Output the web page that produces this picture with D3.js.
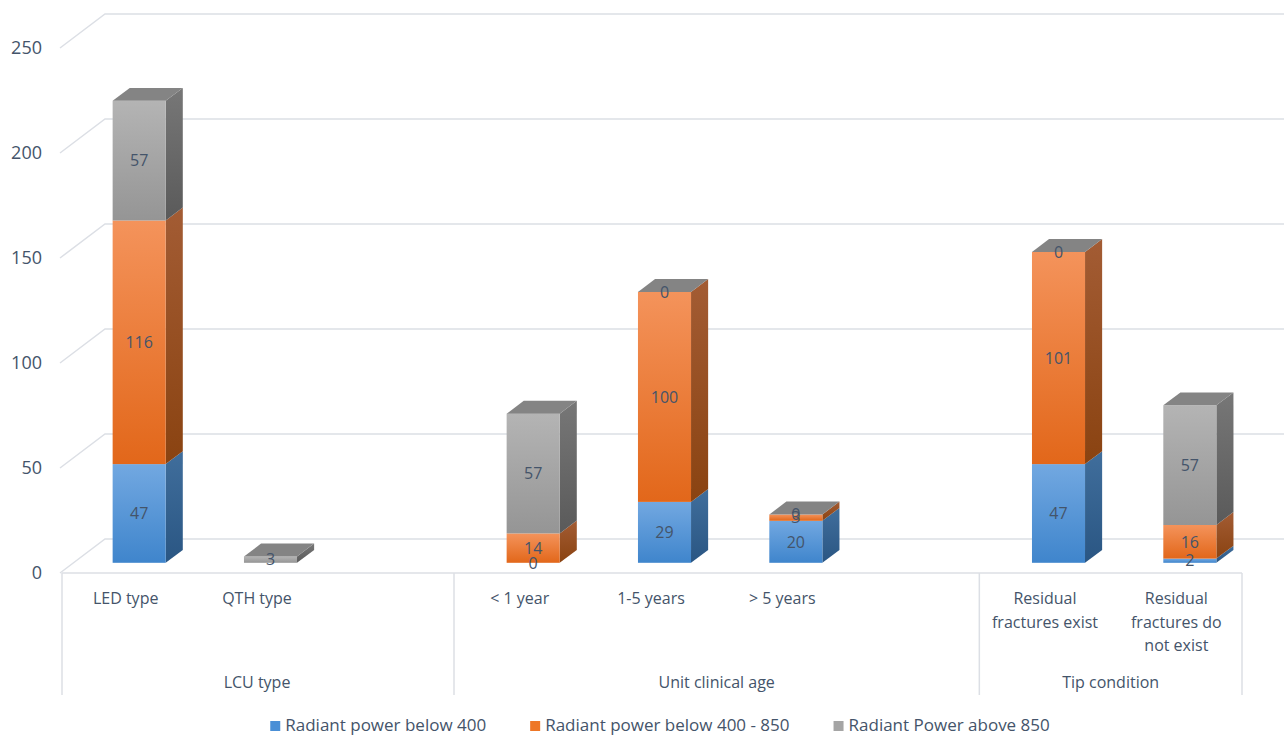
<!DOCTYPE html>
<html>
<head>
<meta charset="utf-8">
<script src="https://cdn.jsdelivr.net/npm/d3@7"></script>
<style>
    body { margin: 0; background: #fff; }
    #container { width: 1284px; height: 736px; }
    text { font-family: "Open Sans", sans-serif; fill: #44546a; }
</style>
</head>
<body>
<div id="container"></div>
<script>
'use strict';
(function() {
    // chart data
    var categories = ['LED type', 'QTH type', '< 1 year', '1-5 years', '> 5 years',
        'Residual fractures exist', 'Residual fractures do not exist'];
    var groups = ['LCU type', 'Unit clinical age', 'Tip condition'];
    var groupOf = [0, 0, 1, 1, 1, 2, 2];
    var seriesNames = ['Radiant power below 400', 'Radiant power below 400 - 850', 'Radiant Power above 850'];
    var below400 = [47, null, 0, 29, 20, 47, 2];
    var from400to850 = [116, null, 14, 100, 3, 101, 16];
    var above850 = [57, 3, 57, 0, 0, 0, 57];
    var yTicks = [0, 50, 100, 150, 200, 250];

    var colors = [
        {front: ['#72a8e1', '#3f85cc'], side: ['#406e9c', '#2a5683'], top: '#5b8dcb', key: '#4a8fd6'},
        {front: ['#f4935b', '#e2671a'], side: ['#a35c34', '#8a4311'], top: '#c7621f', key: '#ee7727'},
        {front: ['#b4b4b4', '#959595'], side: ['#777777', '#5a5a5a'], top: '#848484', key: '#a5a5a5'}
    ];

    var W = 1284, H = 736;
    var left = 60, right = 1242;
    var depthX = 45, depthY = 34;     // back wall offset
    var barFront = 0.3, barBack = 0.68; // bar depth position (0 = front, 1 = back)

    var svg = d3.select('#container').append('svg')
        .attr('width', W)
        .attr('height', H);

    // slots: categories plus a blank slot closing the first two groups
    var slots = [];
    categories.forEach(function(c, i) {
        slots.push({key: 'c' + i, index: i});
        if (i < categories.length - 1 && groupOf[i + 1] !== groupOf[i]) {
            slots.push({key: 'gap' + i, index: null});
        }
    });

    var x = d3.scaleBand()
        .domain(slots.map(function(s) { return s.key; }))
        .range([left, right])
        .padding(0);

    var y = d3.scaleLinear()
        .domain([0, 250])
        .range([573, 48]);

    function px(xv, d) { return xv + depthX * d; }
    function py(v, d) { return y(v) - depthY * d; }

    // gradients
    var defs = svg.append('defs');
    colors.forEach(function(c, i) {
        ['front', 'side'].forEach(function(face) {
            var g = defs.append('linearGradient')
                .attr('id', face + i)
                .attr('x1', 0).attr('y1', 0).attr('x2', 0).attr('y2', 1);
            g.append('stop').attr('offset', '0%').attr('stop-color', c[face][0]);
            g.append('stop').attr('offset', '100%').attr('stop-color', c[face][1]);
        });
    });

    drawWalls();
    drawBars();
    drawCategoryAxis();
    drawLegend();

    function drawWalls() {
        var grid = svg.append('g').attr('class', 'grid');
        var line = d3.line();
        yTicks.forEach(function(t) {
            grid.append('path')
                .attr('d', line([[px(left, 0), py(t, 0)], [px(left, 1), py(t, 1)], [px(right, 1) + 10, py(t, 1)]]))
                .attr('fill', 'none')
                .attr('stroke', '#dcdfe5')
                .attr('stroke-width', 1.5);
        });

        var axisY = d3.axisLeft(y)
            .tickValues(yTicks)
            .tickSize(0)
            .tickPadding(0);
        var ga = svg.append('g')
            .attr('class', 'yAxis')
            .attr('transform', 'translate(42,0)')
            .call(axisY);
        ga.select('.domain').remove();
        ga.selectAll('text')
            .attr('fill', '#44546a')
            .style('font-size', '18px')
            .style('font-family', '"Open Sans", sans-serif');
    }

    function drawBars() {
        var data = [below400, from400to850, above850];
        var bw = x.bandwidth() * 0.404;
        var gBars = svg.append('g').attr('class', 'bars');

        slots.forEach(function(s) {
            if (s.index === null) return;
            var i = s.index;
            var cx = x(s.key) + x.bandwidth() / 2;
            var x0 = cx - bw / 2, x1 = cx + bw / 2;
            var base = 0, topSeries = -1, topVal = 0;
            var segs = [];
            data.forEach(function(series, k) {
                var v = series[i];
                if (v === null) return;
                segs.push({k: k, v: v, lo: base, hi: base + v});
                base += v;
                topSeries = k;
                topVal = base;
            });

            var g = gBars.append('g').attr('class', 'bar');
            segs.forEach(function(sg) {
                if (sg.v <= 0) return;
                // side face
                g.append('path')
                    .attr('d', d3.line()([
                        [px(x1, barFront), py(sg.lo, barFront)],
                        [px(x1, barBack), py(sg.lo, barBack)],
                        [px(x1, barBack), py(sg.hi, barBack)],
                        [px(x1, barFront), py(sg.hi, barFront)]
                    ]) + 'Z')
                    .attr('fill', 'url(#side' + sg.k + ')');
                // front face
                g.append('rect')
                    .attr('x', px(x0, barFront))
                    .attr('y', py(sg.hi, barFront))
                    .attr('width', bw)
                    .attr('height', py(sg.lo, barFront) - py(sg.hi, barFront))
                    .attr('fill', 'url(#front' + sg.k + ')');
            });
            // top face
            if (topSeries >= 0) {
                g.append('path')
                    .attr('d', d3.line()([
                        [px(x0, barFront), py(topVal, barFront)],
                        [px(x0, barBack), py(topVal, barBack)],
                        [px(x1, barBack), py(topVal, barBack)],
                        [px(x1, barFront), py(topVal, barFront)]
                    ]) + 'Z')
                    .attr('fill', colors[topSeries].top);
            }
            // data labels
            segs.forEach(function(sg) {
                g.append('text')
                    .attr('x', px(cx, barFront))
                    .attr('y', (py(sg.lo, barFront) + py(sg.hi, barFront)) / 2)
                    .attr('dy', '0.36em')
                    .attr('text-anchor', 'middle')
                    .style('font-size', '16px')
                    .text(sg.v);
            });
        });
    }

    function drawCategoryAxis() {
        var gAx = svg.append('g').attr('class', 'xAxis');
        var top = py(0, 0), bottom = 695;
        gAx.append('line')
            .attr('x1', left + 2).attr('x2', right)
            .attr('y1', top).attr('y2', top)
            .attr('stroke', '#dcdfe5').attr('stroke-width', 1.5);

        // group boundaries
        var bounds = [left + 2];
        var groupSpans = groups.map(function() { return [Infinity, -Infinity]; });
        var current = 0;
        slots.forEach(function(s) {
            if (s.index !== null) current = groupOf[s.index];
            var sp = groupSpans[current];
            sp[0] = Math.min(sp[0], x(s.key));
            sp[1] = Math.max(sp[1], x(s.key) + x.bandwidth());
        });
        groupSpans.forEach(function(sp) { bounds.push(sp[1]); });
        bounds.forEach(function(b) {
            gAx.append('line')
                .attr('x1', b).attr('x2', b)
                .attr('y1', top).attr('y2', bottom)
                .attr('stroke', '#dcdfe5').attr('stroke-width', 1.5);
        });

        slots.forEach(function(s) {
            if (s.index === null) return;
            var t = gAx.append('text')
                .attr('x', x(s.key) + x.bandwidth() / 2)
                .attr('y', 604)
                .attr('text-anchor', 'middle')
                .style('font-size', '16px')
                .text(categories[s.index]);
            wrap(t, 118, 23.5);
        });

        groups.forEach(function(gname, k) {
            gAx.append('text')
                .attr('x', (groupSpans[k][0] + groupSpans[k][1]) / 2)
                .attr('y', 688)
                .attr('text-anchor', 'middle')
                .style('font-size', '16px')
                .text(gname);
        });
    }

    function wrap(textSel, width, lineHeight) {
        var words = textSel.text().split(' ');
        var xPos = textSel.attr('x');
        var yPos = +textSel.attr('y');
        textSel.text(null);
        var lines = [], lineWords = [];
        var tspan = textSel.append('tspan').attr('x', xPos).attr('y', yPos);
        words.forEach(function(w) {
            lineWords.push(w);
            tspan.text(lineWords.join(' '));
            if (tspan.node().getComputedTextLength() > width && lineWords.length > 1) {
                lineWords.pop();
                tspan.text(lineWords.join(' '));
                lines.push(tspan);
                lineWords = [w];
                tspan = textSel.append('tspan')
                    .attr('x', xPos)
                    .attr('y', yPos + lineHeight * lines.length)
                    .text(w);
            }
        });
    }

    function drawLegend() {
        var gL = svg.append('g').attr('class', 'legend');
        var items = seriesNames.map(function(name, k) {
            var it = gL.append('g');
            it.append('rect')
                .attr('width', 10).attr('height', 10)
                .attr('y', -10)
                .attr('fill', colors[k].key);
            var t = it.append('text')
                .attr('x', 15)
                .attr('y', 0)
                .style('font-size', '17px')
                .text(name);
            return {g: it, w: 15 + t.node().getComputedTextLength()};
        });
        var gap = 44;
        var total = d3.sum(items, function(d) { return d.w; }) + gap * (items.length - 1);
        var cur = (W - total) / 2 + 18;
        items.forEach(function(it) {
            it.g.attr('transform', 'translate(' + cur + ',731)');
            cur += it.w + gap;
        });
    }
})();
</script>
</body>
</html>
